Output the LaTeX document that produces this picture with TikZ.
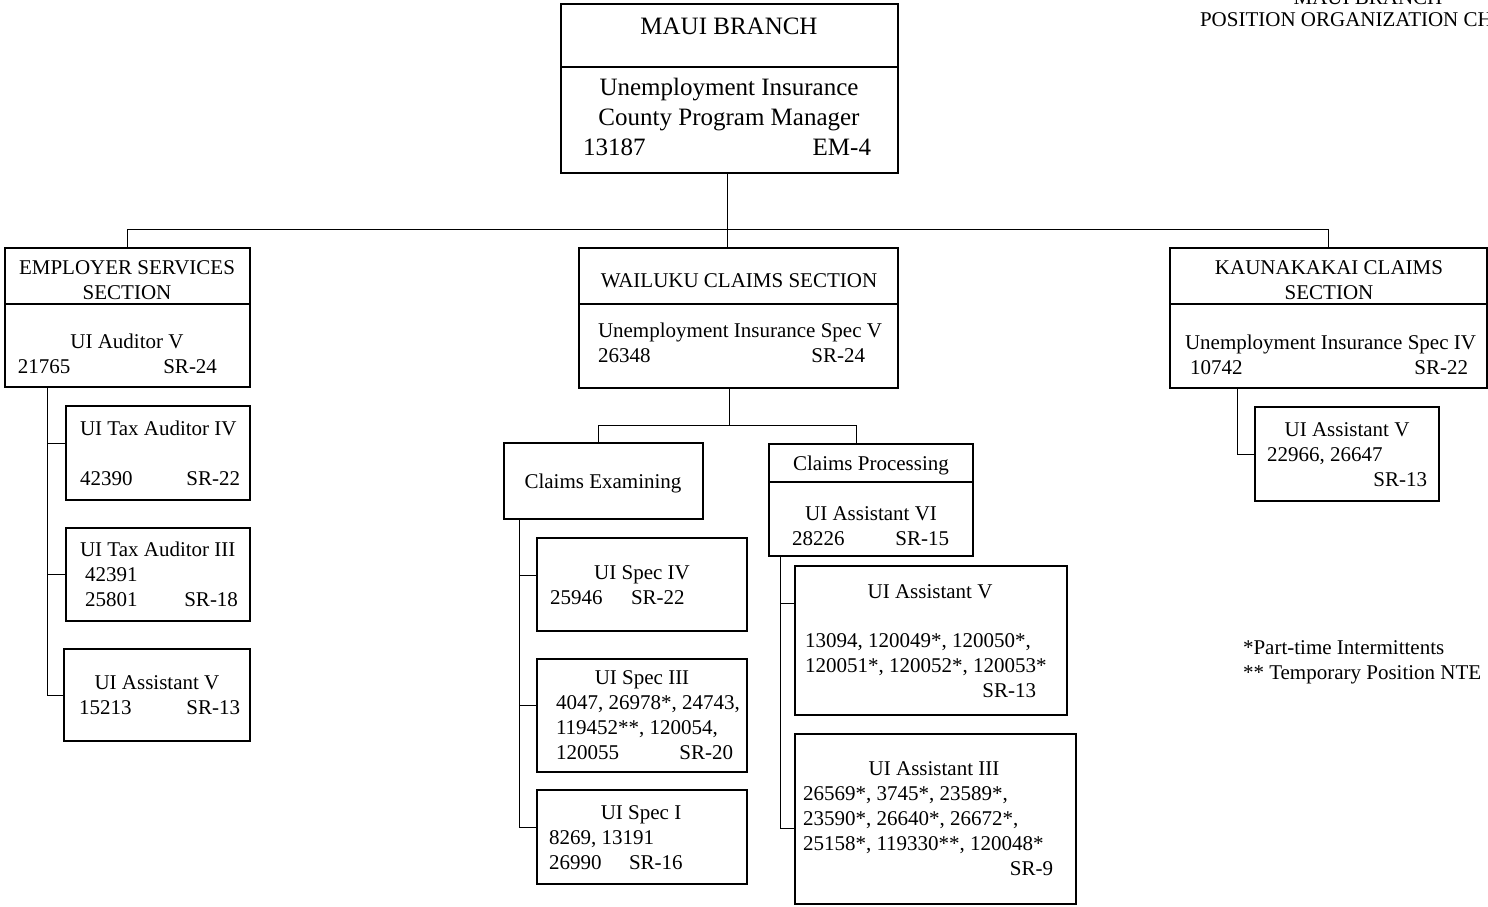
\documentclass[tikz,border=0pt]{standalone}
\usepackage{fontspec}
\setmainfont{Liberation Serif}
\usetikzlibrary{calc}
\newcounter{tn}
\tikzset{
  obox/.style={draw, line width=0.65pt, inner sep=0pt, outer sep=0pt, rectangle},
  conn/.style={draw, line width=0.5pt},
  divl/.style={draw, line width=0.55pt},
  txt/.style={inner sep=0pt, outer sep=0pt, yshift=-1.5pt, font=\fontsize{10.5}{12.5}\selectfont},
  bigtxt/.style={inner sep=0pt, outer sep=0pt, yshift=-1.5pt, font=\fontsize{12.5}{15}\selectfont}
}
\newcommand\obox[5]{\node[obox, minimum width={(#4-#2)*0.5pt}, minimum height={(#5-#3)*0.5pt}] (#1) at ({(#2+#4)/2},{(#3+#5)/2}) {};}
\newcommand\tc[4][txt]{\stepcounter{tn}\node[#1, anchor=mid] (t\arabic{tn}) at (#2,#3) {#4};}
\newcommand\tl[4][txt]{\stepcounter{tn}\node[#1, anchor=mid west] (t\arabic{tn}) at (#2,#3) {#4};}
\newcommand\tr[4][txt]{\stepcounter{tn}\node[#1, anchor=mid east] (t\arabic{tn}) at (#2,#3) {#4};}
\newcommand\dv[2]{\draw[divl] ($(#1.north west)+(0,#2)$) -- ($(#1.north east)+(0,#2)$);}
\begin{document}
\begin{tikzpicture}[x=0.5pt,y=-0.5pt]
\useasboundingbox (0,0) rectangle (1488,906);
\clip (0,0) rectangle (1488,906);
\fill[white] (0,0) rectangle (1488,906);

% boxes
\obox{maui}{561}{4}{898}{173}
\obox{emp}{5}{248}{250}{387}
\obox{wai}{579}{248}{898}{388}
\obox{kau}{1170}{248}{1487}{388}
\obox{tax4}{66}{406}{250}{500}
\obox{tax3}{66}{528}{250}{621}
\obox{asv1}{64}{649}{250}{741}
\obox{ce}{504}{443}{703}{519}
\obox{spec4}{537}{538}{747}{631}
\obox{spec3}{537}{659}{747}{772}
\obox{spec1}{537}{790}{747}{884}
\obox{cp}{769}{444}{973}{556}
\obox{asv2}{795}{566}{1067}{715}
\obox{as3}{795}{734}{1076}{904}
\obox{asv3}{1255}{407}{1439}{501}

% dividers
\dv{maui}{63}
\dv{emp}{56}
\dv{wai}{56}
\dv{kau}{56}
\dv{cp}{38}

% connectors
\coordinate (bus) at (0,229);
\coordinate (j) at (0,425);
\coordinate (vx) at (727,0);
\coordinate (cex) at (598,0);
\coordinate (cpx) at (856,0);
\coordinate (lx) at (47,0);
\coordinate (mx) at (519,0);
\coordinate (px) at (780,0);
\coordinate (kx) at (1237,0);
\coordinate (tk4) at (0,443);
\coordinate (ts4) at (0,575);
\coordinate (ts3) at (0,705);
\coordinate (ts1) at (0,827);
\coordinate (ta5) at (0,603);
\coordinate (ta3) at (0,828);

\draw[conn] (emp.north) -- (emp.north |- bus) -- (kau.north |- bus) -- (kau.north);
\draw[conn] (vx |- maui.south) -- (vx |- wai.north);
\draw[conn] (maui.south |- wai.south) -- (maui.south |- j);
\draw[conn] (cex |- ce.north) -- (cex |- j) -- (cpx |- j) -- (cpx |- cp.north);

\draw[conn] (lx |- emp.south) -- (lx |- asv1.west) -- (asv1.west);
\draw[conn] (lx |- tk4) -- (tax4.west |- tk4);
\draw[conn] (lx |- tax3.west) -- (tax3.west);

\draw[conn] (mx |- ce.south) -- (mx |- ts1) -- (spec1.west |- ts1);
\draw[conn] (mx |- ts4) -- (spec4.west |- ts4);
\draw[conn] (mx |- ts3) -- (spec3.west |- ts3);

\draw[conn] (px |- cp.south) -- (px |- ta3) -- (as3.west |- ta3);
\draw[conn] (px |- ta5) -- (asv2.west |- ta5);

\draw[conn] (kx |- kau.south) -- (kx |- asv3.west) -- (asv3.west);

% texts: top
\tc[bigtxt]{729}{27}{MAUI BRANCH}
\tc[bigtxt]{729}{88}{Unemployment Insurance}
\tc[bigtxt]{729}{118}{County Program Manager}
\tl[bigtxt]{583}{148}{13187}
\tr[bigtxt]{871}{148}{EM-4}

% employer
\tc{127}{267}{EMPLOYER SERVICES}
\tc{127}{292}{SECTION}
\tc{127}{341}{UI Auditor V}
\tl{18}{366}{21765}
\tr{217}{366}{SR-24}

\tl{80}{428}{UI Tax Auditor IV}
\tl{80}{478}{42390}
\tr{240}{478}{SR-22}

\tl{80}{549}{UI Tax Auditor III}
\tl{85}{574}{42391}
\tl{85}{599}{25801}
\tr{238}{599}{SR-18}

\tc{157}{682}{UI Assistant V}
\tl{79}{707}{15213}
\tr{240}{707}{SR-13}

% wailuku
\tc{739}{280}{WAILUKU CLAIMS SECTION}
\tl{598}{330}{Unemployment Insurance Spec V}
\tl{598}{355}{26348}
\tr{865}{355}{SR-24}

\tc{603}{481}{Claims Examining}

\tc{642}{572}{UI Spec IV}
\tl{550}{597}{25946}
\tl{631}{597}{SR-22}

\tc{642}{677}{UI Spec III}
\tl{556}{702}{4047, 26978*, 24743,}
\tl{556}{727}{119452**, 120054,}
\tl{556}{752}{120055}
\tr{733}{752}{SR-20}

\tc{641}{812}{UI Spec I}
\tl{549}{837}{8269, 13191}
\tl{549}{862}{26990}
\tl{629}{862}{SR-16}

\tc{871}{463}{Claims Processing}
\tc{871}{513}{UI Assistant VI}
\tl{792}{538}{28226}
\tr{949}{538}{SR-15}

\tc{930}{591}{UI Assistant V}
\tl{805}{640}{13094, 120049*, 120050*,}
\tl{805}{665}{120051*, 120052*, 120053*}
\tr{1036}{690}{SR-13}

\tc{934}{768}{UI Assistant III}
\tl{803}{793}{26569*, 3745*, 23589*,}
\tl{803}{818}{23590*, 26640*, 26672*,}
\tl{803}{843}{25158*, 119330**, 120048*}
\tr{1053}{868}{SR-9}

% kaunakakai
\tc{1329}{267}{KAUNAKAKAI CLAIMS}
\tc{1329}{292}{SECTION}
\tl{1185}{342}{Unemployment Insurance Spec IV}
\tl{1190}{367}{10742}
\tr{1468}{367}{SR-22}

\tc{1347}{429}{UI Assistant V}
\tl{1267}{454}{22966, 26647}
\tr{1427}{479}{SR-13}

% footnotes
\tl{1243}{647}{*Part-time Intermittents}
\tl{1243}{672}{** Temporary Position NTE}

% page title (cut by page edge, as in the reference)
\tc{1368}{-3}{MAUI BRANCH}
\tl{1200}{19}{POSITION ORGANIZATION CHART}
\end{tikzpicture}
\end{document}
